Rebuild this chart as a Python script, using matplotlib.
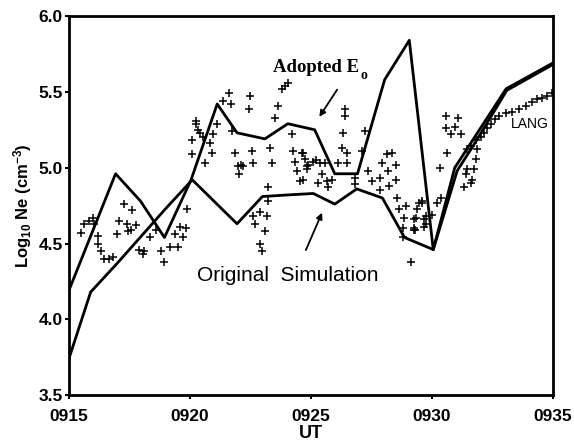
import matplotlib.pyplot as plt

plt.rcParams['font.family'] = ['Liberation Sans', 'DejaVu Sans']
plt.rcParams['mathtext.default'] = 'regular'

# UT in minutes after 0900
tick_minutes = [15, 20, 25, 30, 35]
tick_labels = ['0915', '0920', '0925', '0930', '0935']

# model runs: log10 Ne
adopted_t = [15.0, 16.93, 17.96, 18.95, 20.05, 21.13, 21.95, 23.1, 24.05, 25.16,
             25.99, 26.93, 28.05, 29.07, 30.06, 30.95, 33.07, 35.0]
adopted_ne = [4.19, 4.96, 4.78, 4.54, 4.92, 5.42, 5.23, 5.19, 5.29, 5.25,
              4.96, 4.96, 5.58, 5.84, 4.46, 5.00, 5.52, 5.69]

original_t = [15.0, 15.9, 17.0, 18.0, 19.0, 20.1, 21.95, 23.0, 24.0, 25.1, 25.99,
              26.9, 27.96, 28.87, 30.06, 31.05, 31.85, 33.1, 35.0]
original_ne = [3.74, 4.18, 4.37, 4.55, 4.73, 4.92, 4.63, 4.81, 4.82, 4.83, 4.76,
               4.86, 4.80, 4.54, 4.46, 4.98, 5.18, 5.51, 5.68]

# LANG observations
lang_t = [
    15.49, 15.62, 15.82, 15.99, 16.03, 16.19, 16.20, 16.32, 16.44, 16.65, 16.81,
    17.26, 17.59, 17.06, 17.39, 17.76, 17.55, 17.43, 17.00, 18.37, 17.88, 18.09,
    18.05, 18.62, 18.79, 18.95, 19.20, 19.49, 19.40, 19.73, 19.60, 19.86, 19.90,
    20.27, 20.35, 20.43, 20.10, 20.56, 20.97, 21.13, 20.84, 20.93, 20.10, 20.64,
    21.63, 21.38, 21.70, 22.49, 22.45, 21.75, 21.87, 22.57, 22.00, 22.20, 22.12,
    22.61, 22.04, 23.31, 23.40, 23.64, 23.52, 23.81, 23.93, 24.05, 24.22, 24.26,
    24.63, 24.34, 24.42, 24.55, 24.84, 23.23, 23.23, 22.90, 23.19, 22.61, 22.70,
    23.11, 22.90, 22.98, 20.25,
    26.40, 26.40, 26.32, 27.22, 26.28, 26.48, 27.10, 26.48, 26.11, 24.67, 25.08,
    24.88, 25.37, 25.58, 24.84, 25.45, 24.67, 25.86, 25.66, 25.29, 25.70, 27.35,
    26.81, 26.81, 27.51, 27.84, 28.17, 28.54, 28.25, 27.84, 28.37, 28.13, 27.96,
    28.54, 28.58, 28.66, 28.87, 29.36, 29.28, 28.79, 29.40, 29.60, 29.69, 29.69,
    29.16, 28.95, 29.49, 29.77, 29.32, 28.79, 24.75, 25.20,
    30.60, 31.09, 30.60, 30.97, 30.80, 31.21, 30.64, 30.35, 31.83, 31.87, 31.46,
    31.75, 31.42, 31.67, 31.63, 31.34, 30.39, 30.23, 29.61, 29.77, 30.02, 29.28,
    29.28,
    31.46, 31.63, 31.83, 32.04, 32.16, 32.28, 32.45, 32.61, 32.78, 33.07, 33.31,
    33.60, 33.89, 34.14, 34.34, 34.55, 34.75, 34.96,
]
lang_ne = [
    4.57, 4.63, 4.65, 4.67, 4.63, 4.55, 4.50, 4.45, 4.40, 4.40, 4.41,
    4.76, 4.72, 4.65, 4.63, 4.62, 4.59, 4.58, 4.56, 4.54, 4.46, 4.45,
    4.43, 4.59, 4.45, 4.38, 4.48, 4.48, 4.56, 4.54, 4.61, 4.60, 4.73,
    5.29, 5.25, 5.23, 5.18, 5.20, 5.22, 5.29, 5.16, 5.10, 5.09, 5.03,
    5.49, 5.44, 5.42, 5.47, 5.39, 5.24, 5.10, 5.11, 5.01, 5.01, 5.02,
    5.03, 4.96, 5.13, 5.03, 5.41, 5.33, 5.52, 5.54, 5.56, 5.22, 5.11,
    5.10, 5.04, 4.98, 4.91, 5.01, 4.87, 4.78, 4.71, 4.68, 4.68, 4.63,
    4.58, 4.50, 4.45, 5.31,
    5.39, 5.34, 5.23, 5.24, 5.13, 5.10, 5.11, 5.03, 5.03, 5.10, 5.04,
    5.02, 5.03, 5.03, 4.99, 4.96, 4.92, 4.92, 4.91, 4.90, 4.87, 4.98,
    4.93, 4.89, 4.91, 4.93, 4.98, 4.92, 4.88, 4.85, 5.10, 5.09, 5.03,
    5.02, 4.80, 4.73, 4.67, 4.67, 4.60, 4.60, 4.73, 4.77, 4.66, 4.61,
    4.38, 4.75, 4.77, 4.63, 4.59, 4.54, 5.06, 5.05,
    5.34, 5.33, 5.26, 5.27, 5.22, 5.22, 5.10, 5.00, 5.06, 5.12, 4.99,
    4.99, 4.96, 4.92, 4.90, 4.87, 4.80, 4.77, 4.78, 4.68, 4.69, 4.66,
    4.59,
    5.12, 5.14, 5.18, 5.20, 5.23, 5.26, 5.29, 5.32, 5.34, 5.36, 5.37,
    5.39, 5.41, 5.43, 5.45, 5.46, 5.47, 5.49,
]

fig = plt.figure(figsize=(5.74, 4.46), dpi=100)
ax = fig.add_axes([0.120, 0.114, 0.843, 0.850])

ax.plot(lang_t, lang_ne, '+', color='black', markersize=6, markeredgewidth=1.1)
ax.plot(adopted_t, adopted_ne, '-', color='black', lw=2.0)
ax.plot(original_t, original_ne, '-', color='black', lw=2.0)

ax.set_xlim(15, 35)
ax.set_ylim(3.5, 6.0)
ax.set_xticks(tick_minutes)
ax.set_xticklabels(tick_labels)
ax.set_yticks([3.5, 4.0, 4.5, 5.0, 5.5, 6.0])
ax.set_yticklabels(['3.5', '4.0', '4.5', '5.0', '5.5', '6.0'])
ax.tick_params(direction='out', length=3, width=1.5, labelsize=12.5, pad=1.5)
ax.tick_params(axis='x', pad=7)
for lab in ax.get_xticklabels() + ax.get_yticklabels():
    lab.set_fontweight('bold')
for sp in ax.spines.values():
    sp.set_linewidth(2.0)

ax.set_xlabel('UT', fontsize=13, fontweight='bold', labelpad=1)
ax.set_ylabel('Log$_{10}$ Ne (cm$^{-3}$)', fontsize=12, fontweight='bold', labelpad=3)

# annotations
ax.text(23.44, 5.66, 'Adopted E', fontsize=13.5, fontweight='bold',
        family='Liberation Serif', va='center', ha='left')
ax.text(27.05, 5.61, 'o', fontsize=10, fontweight='bold',
        family='Liberation Serif', va='center', ha='left')
ax.annotate('', xy=(25.29, 5.32), xytext=(26.15, 5.53),
            arrowprops=dict(arrowstyle='-|>', color='black', lw=1.3,
                            mutation_scale=9))

ax.text(20.31, 4.29, 'Original  Simulation', fontsize=15, va='center', ha='left')
ax.annotate('', xy=(25.51, 4.72), xytext=(24.75, 4.44),
            arrowprops=dict(arrowstyle='-|>', color='black', lw=1.3,
                            mutation_scale=9))

ax.text(33.27, 5.29, 'LANG', fontsize=10, va='center', ha='left')

fig.savefig('out.png', dpi=100)
